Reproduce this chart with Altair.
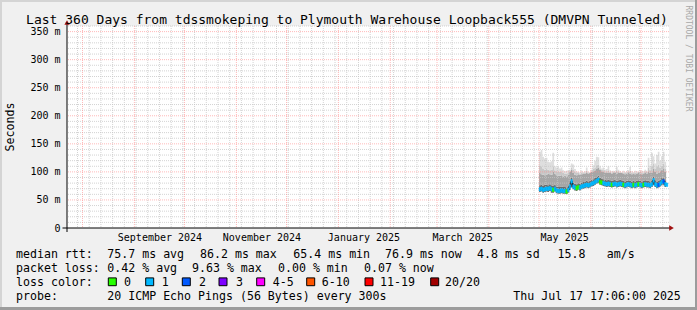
import altair as alt
import pandas as pd

# ---------------- data ----------------
title_text = "Last 360 Days from tdssmokeping to Plymouth Warehouse Loopback555 (DMVPN Tunneled)"
y_axis_title = "Seconds"
watermark_text = "RRDTOOL / TOBI OETIKER"

range_start = (2024, 7, 22, 17, 6)
range_end = (2025, 7, 17, 17, 6)
first_sample_day = "2025-05-01"

median_ms = [69, 70, 68, 69, 70, 70, 71, 69, 68, 70,
             67, 66, 66, 67, 66, 66, 65, 68, 74, 83,
             74, 72, 71, 73, 72, 74, 75, 76, 77, 76,
             77, 79, 80, 82, 84, 86, 82, 81, 80, 79,
             78, 79, 78, 77, 78, 79, 77, 78, 79, 78,
             77, 76, 77, 78, 77, 76, 77, 76, 77, 78,
             77, 76, 77, 78, 77, 77, 76, 78, 85, 78,
             76, 77, 79, 82, 83, 78, 77]
smoke_lo = [64, 65, 63, 64, 65, 64, 66, 63, 63, 65,
            62, 61, 61, 62, 61, 61, 60, 63, 68, 72,
            69, 67, 66, 68, 67, 69, 70, 71, 72, 71,
            72, 74, 75, 77, 79, 80, 77, 76, 75, 74,
            73, 74, 73, 72, 73, 74, 72, 73, 74, 73,
            72, 71, 72, 73, 72, 71, 72, 71, 72, 73,
            72, 71, 72, 73, 72, 72, 71, 73, 76, 73,
            71, 72, 74, 76, 76, 73, 72]
smoke_q1 = [76, 77, 75, 77, 77, 76, 78, 76, 75, 77,
            74, 73, 73, 74, 73, 73, 72, 75, 82, 90,
            81, 79, 78, 80, 79, 81, 82, 83, 84, 83,
            84, 86, 87, 89, 91, 93, 89, 88, 87, 86,
            85, 86, 85, 84, 85, 86, 84, 85, 86, 85,
            84, 83, 84, 85, 84, 83, 84, 83, 84, 85,
            84, 83, 84, 85, 84, 84, 83, 85, 92, 85,
            83, 84, 86, 89, 90, 85, 84]
smoke_q2 = [98, 96, 95, 94, 95, 97, 96, 95, 100, 97,
            94, 93, 93, 94, 92, 93, 92, 95, 100, 104,
            98, 95, 94, 96, 95, 96, 97, 97, 98, 97,
            98, 100, 101, 103, 106, 108, 104, 101, 100, 99,
            98, 99, 98, 97, 98, 99, 97, 98, 99, 98,
            97, 96, 97, 98, 97, 96, 97, 96, 97, 98,
            97, 96, 97, 98, 97, 100, 98, 99, 106, 100,
            97, 98, 101, 104, 105, 100, 98]
smoke_q3 = [112, 110, 106, 104, 105, 104, 103, 104, 110, 103,
            101, 101, 100, 101, 98, 97, 97, 99, 102, 108,
            104, 100, 98, 98, 97, 99, 99, 99, 102, 99,
            99, 101, 105, 108, 112, 113, 106, 104, 103, 101,
            101, 103, 100, 99, 100, 100, 102, 100, 99, 99,
            99, 98, 99, 100, 102, 99, 99, 99, 99, 100,
            100, 99, 99, 101, 100, 108, 103, 110, 114, 106,
            110, 113, 108, 111, 115, 106, 103]
smoke_hi = [136, 139, 127, 124, 125, 118, 117, 119, 134, 110,
            108, 109, 106, 108, 103, 101, 102, 103, 104, 115,
            113, 105, 101, 100, 99, 102, 100, 101, 108, 100,
            99, 104, 112, 120, 127, 126, 110, 106, 108, 104,
            105, 110, 103, 101, 102, 101, 109, 104, 101, 100,
            102, 100, 101, 103, 109, 101, 100, 102, 101, 100,
            103, 102, 101, 104, 102, 125, 111, 134, 128, 115,
            130, 136, 120, 128, 136, 118, 117]
lost_pings = [1, 1, 1, 1, 1, 1, 1, 1, 0, 1,
              1, 1, 1, 1, 1, 1, 0, 1, 1, 1,
              1, 1, 0, 0, 1, 1, 1, 1, 1, 1,
              1, 1, 1, 1, 1, 1, 0, 0, 1, 1,
              1, 1, 1, 0, 1, 1, 1, 1, 1, 1,
              0, 1, 1, 1, 1, 1, 0, 1, 1, 0,
              1, 1, 0, 1, 1, 1, 1, 1, 1, 1,
              1, 2, 1, 1, 2, 1, 1]

loss_labels = ["0", "1", "2", "3", "4-5", "6-10", "11-19", "20/20"]
loss_colors = ["#26ff00", "#00b8ff", "#0059ff", "#7e00ff", "#ff00ff", "#ff5500", "#ff0000", "#a10000"]

y_tick_values = [0, 50, 100, 150, 200, 250, 300, 350]
y_top = 360
month_label_dates = ["2024-09-16", "2024-11-16", "2025-01-16", "2025-03-16", "2025-05-16"]

rtt_label = "median rtt:"
rtt_stats = ["75.7 ms avg", "86.2 ms max", "65.4 ms min", "76.9 ms now", "4.8 ms sd", "15.8", "am/s"]
loss_label = "packet loss:"
loss_stats = ["0.42 % avg", "9.63 % max", "0.00 % min", "0.07 % now"]
color_label = "loss color:"
probe_label = "probe:"
probe_text = "20 ICMP Echo Pings (56 Bytes) every 300s"
timestamp_text = "Thu Jul 17 17:06:00 2025"

# ---------------- layout / style ----------------
W, H = 602, 202
LEFT, TOP = 67, 26
TOTAL_W, TOTAL_H = 697, 310
FONT = "DejaVu Sans Mono"
smoke_colors = ["#6c6c6c", "#a6a6a6", "#c8c8c8", "#dedede"]
rtt_x = [40.3, 133, 226.3, 318, 410, 490.5, 539.7]
loss_x = [40.3, 125, 211, 297]
box_x = [41.3, 78.7, 115.3, 152, 189.7, 239.7, 298, 363.7]
box_label_x = [57, 94.7, 132, 169, 205.7, 254.7, 313, 378]
row_y = [231.7, 245.7, 259.7, 273.5]
LEG = 11.6

# ---------------- frames ----------------
dates = pd.date_range(first_sample_day, periods=len(median_ms), freq="D")
df = pd.DataFrame({
    "date": dates,
    "date_end": dates + pd.Timedelta(days=1),
    "median": median_ms,
    "lo": smoke_lo, "q1": smoke_q1, "q2": smoke_q2, "q3": smoke_q3, "hi": smoke_hi,
    "loss": [loss_labels[n] for n in lost_pings],
})

def dt(y, m, d, h=0, mi=0):
    return alt.DateTime(year=y, month=m, date=d, hours=h, minutes=mi)

xscale = alt.Scale(domain=[dt(*range_start), dt(*range_end)], nice=False)
yscale = alt.Scale(domain=[0, y_top], nice=False, zero=True)

label_vals = []
for s in month_label_dates:
    yy, mm, dd = map(int, s.split("-"))
    label_vals.append(dt(yy, mm, dd))

xaxis = alt.Axis(values=label_vals, format="%B %Y", labelFont=FONT, labelFontSize=10,
                 labelColor="#000000", labelPadding=4, ticks=False, domain=False, grid=False,
                 title=None, labelFlush=False, labelOverlap=False)
yaxis = alt.Axis(values=y_tick_values,
                 labelExpr="datum.value == 0 ? '0\u00a0\u00a0' : datum.value + ' m'",
                 labelFont=FONT, labelFontSize=10, labelColor="#000000", labelPadding=7,
                 ticks=False, domain=False, grid=False, title=None, labelOverlap=False)

X = lambda f: alt.X(f, scale=xscale, axis=xaxis)
Y = lambda f: alt.Y(f, scale=yscale, axis=yaxis)

one = pd.DataFrame({"a": [0]})
layers = []

# frame shading
def frect(x1, x2, y1, y2, color):
    return alt.Chart(one).mark_rect(color=color).encode(
        x=alt.value(x1), x2=alt.value(x2), y=alt.value(y1), y2=alt.value(y2))

layers.append(frect(-LEFT, TOTAL_W - LEFT, -TOP, -TOP + 2, "#d4d4d4"))
layers.append(frect(-LEFT, -LEFT + 2, -TOP, TOTAL_H - TOP, "#d4d4d4"))
layers.append(frect(-LEFT, TOTAL_W - LEFT, TOTAL_H - TOP - 3, TOTAL_H - TOP, "#9c9c9c"))
layers.append(frect(TOTAL_W - LEFT - 2, TOTAL_W - LEFT, -TOP, TOTAL_H - TOP, "#9c9c9c"))

# smoke
base = alt.Chart(df)
for (a, b), col in zip([("lo", "q1"), ("q1", "q2"), ("q2", "q3"), ("q3", "hi")], smoke_colors):
    layers.append(base.mark_area(interpolate="step-after", color=col, opacity=1).encode(
        x=X("date:T"), y=Y(f"{a}:Q"), y2=alt.Y2(f"{b}:Q")))

# grid
minor_x = pd.DataFrame({"date": pd.date_range("2024-07-29", "2025-07-14", freq="W-MON")})
major_x = pd.DataFrame({"date": pd.date_range("2024-08-01", "2025-07-01", freq="MS")})
minor_y = pd.DataFrame({"v": [v for v in range(10, y_top + 1, 10) if v not in y_tick_values]})
major_y = pd.DataFrame({"v": y_tick_values[1:]})
layers.append(alt.Chart(minor_x).mark_rule(color="#c4c4c4", strokeDash=[1, 1], strokeWidth=1, opacity=0.75)
              .encode(x=X("date:T")))
layers.append(alt.Chart(minor_y).mark_rule(color="#c4c4c4", strokeDash=[1, 1], strokeWidth=1, opacity=0.75)
              .encode(y=Y("v:Q")))
layers.append(alt.Chart(major_x).mark_rule(color="#ff8c8c", strokeDash=[1, 1], strokeWidth=1, opacity=0.6)
              .encode(x=X("date:T")))
layers.append(alt.Chart(major_y).mark_rule(color="#ff8c8c", strokeDash=[1, 1], strokeWidth=1, opacity=0.6)
              .encode(y=Y("v:Q")))

# median
layers.append(base.mark_line(interpolate="step-after", color="#000000", strokeWidth=1).encode(
    x=X("date:T"), y=Y("median:Q")))
cscale = alt.Scale(domain=loss_labels, range=loss_colors)
layers.append(base.transform_calculate(mlo="datum.median - 3.2", mhi="datum.median + 3.2")
              .mark_rect(strokeWidth=0.5).encode(
    x=X("date:T"), x2=alt.X2("date_end:T"), y=Y("mlo:Q"), y2=alt.Y2("mhi:Q"),
    fill=alt.Fill("loss:N", scale=cscale, legend=None),
    stroke=alt.Stroke("loss:N", scale=cscale, legend=None)))

# axis lines and arrows
layers.append(alt.Chart(one).mark_rule(color="#000000", strokeWidth=1).encode(
    x=alt.value(-4.5), x2=alt.value(603), y=alt.value(H)))
layers.append(alt.Chart(one).mark_rule(color="#000000", strokeWidth=1).encode(
    x=alt.value(0), y=alt.value(-2), y2=alt.value(H + 4)))
layers.append(alt.Chart(one).mark_point(shape="triangle-right", filled=True, size=28, color="#a01010", opacity=1)
              .encode(x=alt.value(604.5), y=alt.value(H)))
layers.append(alt.Chart(one).mark_point(shape="triangle-up", filled=True, size=28, color="#a01010", opacity=1)
              .encode(x=alt.value(0), y=alt.value(-3.5)))

# texts
def txt(s, x, y, size=LEG, align="left", baseline="alphabetic", color="#000000", angle=0):
    kw = dict(text=s, font=FONT, fontSize=size, align=align, baseline=baseline, color=color)
    if angle:
        kw["angle"] = angle
    return alt.Chart(one).mark_text(**kw).encode(x=alt.value(x), y=alt.value(y))

layers.append(txt(title_text, 280, -2, size=13, align="center"))
layers.append(txt(y_axis_title, 10.5 - LEFT, H / 2, size=LEG, align="center", baseline="middle", angle=270))
layers.append(txt(watermark_text, 688 - LEFT, 32.5, size=8, align="center", baseline="middle",
                  color="#a8a8a8", angle=90))

layers.append(txt(rtt_label, 16 - LEFT, row_y[0]))
for s, x in zip(rtt_stats, rtt_x):
    layers.append(txt(s, x, row_y[0]))
layers.append(txt(loss_label, 16 - LEFT, row_y[1]))
for s, x in zip(loss_stats, loss_x):
    layers.append(txt(s, x, row_y[1]))
layers.append(txt(color_label, 16 - LEFT, row_y[2]))
for lab, col, bx, lx in zip(loss_labels, loss_colors, box_x, box_label_x):
    layers.append(alt.Chart(one).mark_rect(fill=col, stroke="#000000", strokeWidth=1).encode(
        x=alt.value(bx), x2=alt.value(bx + 8), y=alt.value(row_y[2] - 7.8), y2=alt.value(row_y[2])))
    layers.append(txt(lab, lx, row_y[2]))
layers.append(txt(probe_label, 16 - LEFT, row_y[3]))
layers.append(txt(probe_text, 40.3, row_y[3]))
layers.append(txt(timestamp_text, 513.3 - LEFT, row_y[3]))

chart = alt.layer(*layers).properties(
    width=W, height=H,
    autosize=alt.AutoSizeParams(type="none"),
    padding={"left": LEFT, "top": TOP, "right": TOTAL_W - LEFT - W, "bottom": TOTAL_H - TOP - H},
).configure(background="#f0f0f0", font=FONT).configure_view(fill="#ffffff", strokeWidth=0)

chart.save("out.html", embed_options={"renderer": "svg", "actions": False})
